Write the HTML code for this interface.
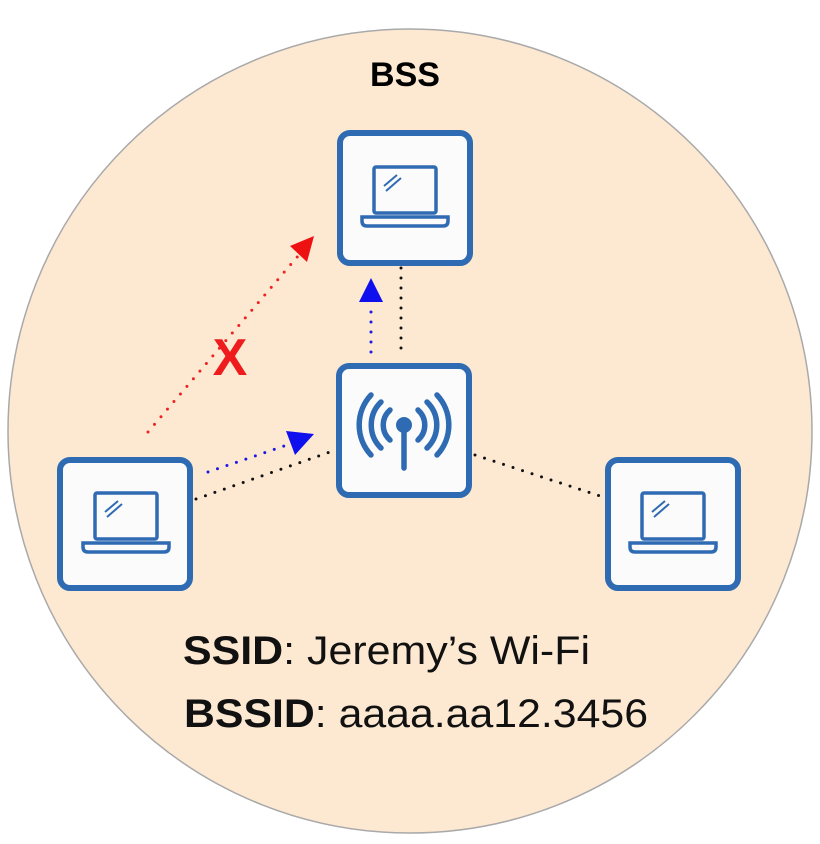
<!DOCTYPE html>
<html><head><meta charset="utf-8"><style>html,body{margin:0;padding:0;background:#fff}svg{display:block}</style></head>
<body>
<svg width="820" height="844" viewBox="0 0 820 844" xmlns="http://www.w3.org/2000/svg" font-family="Liberation Sans, sans-serif">
<defs>
<g id="laptop" fill="none" stroke="#2f6bb3" stroke-width="3.5">
  <rect x="-31" y="-31" width="62" height="46" rx="2"/>
  <path d="M-43 19 H43 V23 Q43 28 38 28 H-38 Q-43 28 -43 23 Z"/>
  <path d="M-21 -12 L-8 -23 M-19 -7 L-4 -20" stroke-width="2"/>
</g>
</defs>
<circle cx="410" cy="431" r="402" fill="#fde9d2" stroke="#a9a9a9" stroke-width="1.5"/>
<text x="405" y="86" font-size="34" font-weight="bold" text-anchor="middle" fill="#000">BSS</text>

<g stroke-linecap="round" fill="none" stroke-width="3" stroke-dasharray="0 10">
  <line x1="401" y1="268" x2="401" y2="358" stroke="#111"/>
  <line x1="371" y1="352" x2="371" y2="305" stroke="#1a1ae6"/>
  <line x1="196" y1="499" x2="330" y2="452" stroke="#111"/>
  <line x1="208" y1="472" x2="296" y2="442" stroke="#1a1ae6"/>
  <line x1="148" y1="432" x2="298" y2="256" stroke="#ee2222"/>
  <line x1="475" y1="455" x2="603" y2="497" stroke="#111"/>
</g>
<polygon points="371,278 359,302 383,302" fill="#1010ee"/>
<polygon points="314,434 286,431 295,455" fill="#1010ee"/>
<polygon points="314,236 290,246 307,262" fill="#ee1111"/>
<text x="230" y="375" font-size="52" font-weight="bold" fill="#ee1c1c" text-anchor="middle">X</text>

<g fill="#fbfbfb" stroke="#2f6bb3" stroke-width="6">
  <rect x="340" y="133" width="130" height="130" rx="10"/>
  <rect x="339" y="366" width="130" height="129" rx="10"/>
  <rect x="60" y="460" width="130" height="128" rx="10"/>
  <rect x="608" y="460" width="130" height="128" rx="10"/>
</g>
<use href="#laptop" x="405" y="198"/>
<use href="#laptop" x="126" y="524"/>
<use href="#laptop" x="673" y="524"/>
<g fill="none" stroke="#2f6bb3" stroke-width="5.5" stroke-linecap="round">
  <circle cx="404" cy="425" r="8" fill="#2f6bb3" stroke="none"/>
  <line x1="404" y1="425" x2="404" y2="468"/>
  <path d="M390 410 A20 20 0 0 0 390 440 M418 410 A20 20 0 0 1 418 440"/>
  <path d="M381 402 A32 32 0 0 0 381 448 M427 402 A32 32 0 0 1 427 448"/>
  <path d="M371 395 A44 44 0 0 0 371 455 M437 395 A44 44 0 0 1 437 455"/>
</g>

<text x="183" y="664" font-size="40" fill="#111" textLength="407" lengthAdjust="spacingAndGlyphs"><tspan font-weight="bold">SSID</tspan>: Jeremy’s Wi-Fi</text>
<text x="184" y="727" font-size="40" fill="#111" textLength="464" lengthAdjust="spacingAndGlyphs"><tspan font-weight="bold">BSSID</tspan>: aaaa.aa12.3456</text>
</svg>
</body></html>
